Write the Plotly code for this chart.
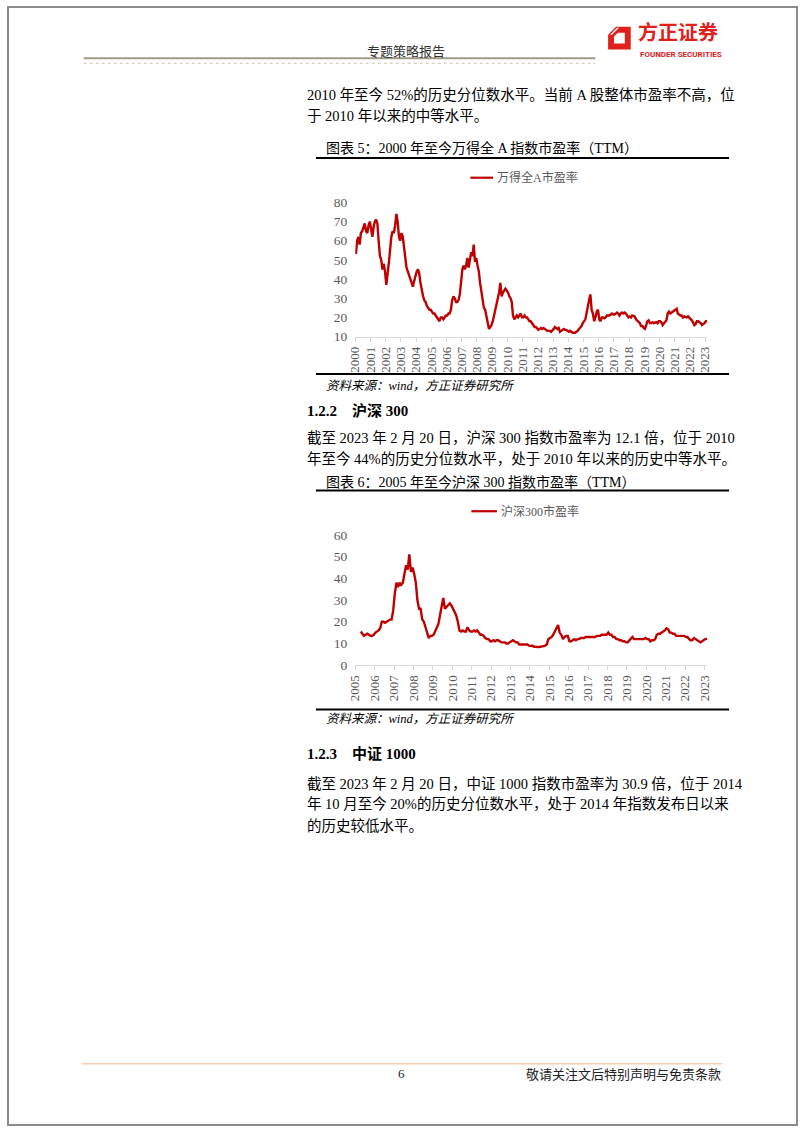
import plotly.graph_objects as go

W, H = 802, 1133

# ---------------- data ----------------
wind_a_months = [f"{y}-{m:02d}-15" for y in range(2000, 2023) for m in range(1, 13)] + ["2023-01-15", "2023-02-20"]
wind_a_pe = [
    53, 60, 62, 58, 64, 65, 67, 69, 65, 64, 68, 70,
    66, 62, 67, 70, 71, 69, 60, 52, 50, 45, 48, 44,
    37, 42, 48, 55, 62, 65, 64, 68, 74, 70, 62, 60,
    64, 62, 56, 50, 46, 44, 42, 40, 38, 36, 39, 42,
    44, 45, 43, 38, 34, 31, 29, 28, 26, 25, 24, 24,
    23, 22, 22, 21, 20, 19, 18, 20, 20, 19, 20, 21,
    21, 22, 22, 24, 29, 31, 30, 28, 28, 29, 32, 38,
    45, 47, 45, 47, 51, 46, 50, 54, 52, 58, 49, 51,
    47, 44, 38, 34, 30, 25, 24, 20, 17, 14, 15, 16,
    18, 21, 25, 28, 31, 33, 38, 31, 33, 34, 35, 34,
    33, 31, 30, 28, 21, 19, 20, 21, 20, 21, 22, 20,
    20, 21, 20, 20, 19, 18, 18, 17, 16, 15, 15, 14,
    13.5, 14, 14.5, 14, 14.5, 14, 13.5, 13, 13, 13, 12.5, 13,
    14, 15, 14.5, 14, 14.5, 12.5, 13, 13.5, 14, 13.5, 13.5, 13,
    12.5, 13, 12.5, 12, 12, 12, 12.5, 13, 14, 14.5, 15.5, 17,
    18, 19, 22, 27, 29, 32, 24, 22, 18, 20, 23, 24,
    19, 18, 20, 20, 19.5, 20, 21, 21, 21, 21.5, 22, 21.5,
    21.5, 22, 22.5, 22, 21, 22, 22.5, 22, 22.5, 22, 21, 20,
    20.5, 20, 21, 20.5, 20.5, 19, 18.5, 17.5, 17, 15.5, 15.5, 14.5,
    14, 16, 18, 18.5, 17, 17, 17.5, 17, 17.5, 17.5, 17, 18,
    18, 17.5, 16, 17, 17.5, 18.5, 22, 23, 22, 22.5, 23, 23.5,
    24, 24.5, 22, 21.5, 21, 21, 20, 20.5, 20, 20, 20.5, 20,
    19, 18.5, 17.5, 16, 16.5, 18, 18, 17.5, 17, 16, 16.5, 17,
    18, 18.2,
]

hs300_months = [f"2005-{m:02d}-15" for m in range(4, 13)] + \
    [f"{y}-{m:02d}-15" for y in range(2006, 2023) for m in range(1, 13)] + ["2023-01-15", "2023-02-20"]
hs300_pe = [
    15.5, 14.5, 13.5, 14, 14.5, 14, 13.5, 13.5, 14,
    15, 15.5, 16, 17, 20, 20, 19.5, 20, 20.5, 21, 21, 25,
    33, 38, 36, 38, 37, 38, 42, 46, 44, 51, 43, 45,
    42, 38, 30, 26, 26, 21, 20, 17, 14.5, 12.5, 13.5, 13.5,
    14, 15.5, 17, 19, 23, 27, 31, 26, 27, 28, 28.5, 27.5,
    26, 25, 23, 20, 16, 15.5, 16, 15.5, 15.5, 17.5, 16, 15.5,
    15.5, 16, 15.5, 16, 15, 14, 14, 13.5, 12.5, 12, 12, 11,
    11, 11.5, 11, 11.5, 11.5, 11, 10.5, 10.5, 10.5, 10, 10, 10.5,
    11, 11.5, 11, 10.5, 10.5, 9.5, 9.5, 9.5, 9.5, 9.5, 9.5, 9,
    8.8, 9, 8.5, 8.5, 8.3, 8.3, 8.5, 8.8, 8.8, 9, 9.5, 12,
    12.5, 13, 14, 16, 17, 18.5, 15, 14, 12, 13, 13.5, 13.5,
    11, 11, 11.5, 12, 11.5, 12, 12, 12.5, 12.5, 12.5, 13, 13,
    13, 13, 13, 13, 13, 13.5, 13.5, 13.5, 14, 14, 14, 14,
    15, 14, 14, 13, 13, 12, 12, 11.5, 11.5, 11, 11, 10.5,
    10.5, 11.5, 12.5, 13, 12, 12, 12, 12, 12, 12, 12, 12.5,
    12, 12, 11, 11.5, 11.5, 12, 14, 14.5, 14.5, 15, 15.5, 16,
    17, 16.5, 15, 15, 14.5, 14.5, 13.5, 13.5, 13.5, 13.5, 13.5, 13.5,
    13, 13, 12, 11.5, 11.5, 12.5, 12, 11.5, 11, 10.5, 11, 11.5,
    12, 12.1,
]

year_ticks_1 = [f"{y}-01-01" for y in range(2000, 2024)]
year_labels_1 = [str(y) for y in range(2000, 2024)]
year_ticks_2 = [f"{y}-01-01" for y in range(2005, 2024)]
year_labels_2 = [str(y) for y in range(2005, 2024)]

series1_name = "万得全A市盈率"
series2_name = "沪深300市盈率"

# ---------------- helpers ----------------
def px(x):
    return x / W

def py(y):
    return 1 - y / H

RED = "#C00000"
LOGO_RED = "#E0201B"
SERIF = "Liberation Serif, Noto Sans CJK SC, serif"
CJK = "Noto Sans CJK SC, sans-serif"

fig = go.Figure()

fig.add_trace(go.Scatter(x=wind_a_months, y=wind_a_pe, mode="lines", name=series1_name,
                         line=dict(color=RED, width=2.4), xaxis="x", yaxis="y", showlegend=False))
fig.add_trace(go.Scatter(x=hs300_months, y=hs300_pe, mode="lines", name=series2_name,
                         line=dict(color=RED, width=2.4), xaxis="x2", yaxis="y2", showlegend=False))

axis_common = dict(
    type="date", showgrid=False, zeroline=False, showline=True, linecolor="#D9D9D9", linewidth=1,
    ticks="outside", ticklen=4, tickcolor="#D9D9D9", tickangle=-90,
    tickfont=dict(family=SERIF, size=13, color="#595959"), tickmode="array",
)
yaxis_common = dict(
    showgrid=False, zeroline=False, showline=False, ticks="",
    tickfont=dict(family=SERIF, size=13.5, color="#595959"), tickmode="linear", dtick=10,
    ticklabelstandoff=7,
)

fig.update_layout(
    width=W, height=H, margin=dict(l=0, r=0, t=0, b=0),
    paper_bgcolor="white", plot_bgcolor="white", showlegend=False, hovermode=False,
    xaxis=dict(axis_common, domain=[px(353), px(711)], range=["2000-01-01", "2023-02-25"],
               tickvals=year_ticks_1, ticktext=year_labels_1, anchor="y"),
    yaxis=dict(yaxis_common, domain=[py(334), py(198)], range=[10, 80], anchor="x"),
    xaxis2=dict(axis_common, domain=[px(353), px(711)], range=["2005-01-01", "2023-02-25"],
                tickvals=year_ticks_2, ticktext=year_labels_2, anchor="y2"),
    yaxis2=dict(yaxis_common, domain=[py(667), py(535)], range=[0, 60], anchor="x2"),
)

shapes = []
annotations = []

def hline(x0, x1, y, color="black", width=2, dash=None):
    ln = dict(color=color, width=width)
    if dash:
        ln["dash"] = dash
    shapes.append(dict(type="line", xref="paper", yref="paper", x0=px(x0), x1=px(x1), y0=py(y), y1=py(y), line=ln))

def poly(points, color):
    d = "M " + " L ".join(f"{px(a)},{py(b)}" for a, b in points) + " Z"
    shapes.append(dict(type="path", xref="paper", yref="paper", path=d, line=dict(width=0), fillcolor=color))

def text(x, y, s, size=14.5, family=SERIF, color="black", anchor="left", bold=False, italic=False, yanchor="middle"):
    if bold:
        s = f"<b>{s}</b>"
    if italic:
        s = f"<i>{s}</i>"
    annotations.append(dict(x=px(x), y=py(y), xref="paper", yref="paper", text=s, showarrow=False,
                            xanchor=anchor, yanchor=yanchor, borderpad=0,
                            font=dict(size=size, family=family, color=color)))

# page border
shapes.append(dict(type="rect", xref="paper", yref="paper", x0=0, y0=0, x1=1, y1=1,
                   line=dict(color="#8C8C8C", width=2), fillcolor="rgba(0,0,0,0)"))

# header
text(405, 44, "专题策略报告", size=13, family=CJK, color="#333333", anchor="center")
hline(77, 597, 52, color="#A09A8A", width=2)
hline(77, 597, 57, color="#C8C2B0", width=1, dash="dot")

# logo
poly([(610, 28), (618, 20), (633, 20), (633, 43), (610, 43)], LOGO_RED)
poly([(616, 30), (620, 26), (627, 26), (627, 37), (616, 37)], "white")
poly([(612, 28), (619, 21), (621, 21), (614, 28)], "white")
text(681, 41, "方正证券", size=20, family=CJK, color=LOGO_RED, anchor="center", bold=True, yanchor="bottom")
text(684, 43, "FOUNDER SECURITIES", size=8, family="Roboto, sans-serif", color=LOGO_RED, anchor="center",
     bold=True, yanchor="top")

# body text block 1
text(303, 89, "2010 年至今 52%的历史分位数水平。当前 A 股整体市盈率不高，位")
text(303, 110, "于 2010 年以来的中等水平。")

# chart 1 frame
text(322, 143, "图表 5：2000 年至今万得全 A 指数市盈率（TTM）", size=14)
hline(313, 733, 153)
shapes.append(dict(type="line", xref="paper", yref="paper", x0=px(470), x1=px(493), y0=py(173), y1=py(173),
                   line=dict(color=RED, width=2.2)))
text(496, 173, series1_name, size=12, family=SERIF, color="#595959")
hline(313, 733, 372)
text(322, 384, "资料来源：wind，方正证券研究所", size=12.5, italic=True)

# section 1.2.2
text(303, 409, "1.2.2&nbsp;&nbsp;&nbsp;&nbsp;沪深 300", size=15, bold=True)
text(303, 437, "截至 2023 年 2 月 20 日，沪深 300 指数市盈率为 12.1 倍，位于 2010")
text(303, 458, "年至今 44%的历史分位数水平，处于 2010 年以来的历史中等水平。")

# chart 2 frame
text(322, 481, "图表 6：2005 年至今沪深 300 指数市盈率（TTM）", size=14)
hline(313, 733, 490)
shapes.append(dict(type="line", xref="paper", yref="paper", x0=px(471), x1=px(497), y0=py(511), y1=py(511),
                   line=dict(color=RED, width=2.2)))
text(500, 511, series2_name, size=12, family=SERIF, color="#595959")
hline(313, 733, 712)
text(322, 722, "资料来源：wind，方正证券研究所", size=12.5, italic=True)

# section 1.2.3
text(303, 757, "1.2.3&nbsp;&nbsp;&nbsp;&nbsp;中证 1000", size=15, bold=True)
text(303, 787, "截至 2023 年 2 月 20 日，中证 1000 指数市盈率为 30.9 倍，位于 2014")
text(303, 808, "年 10 月至今 20%的历史分位数水平，处于 2014 年指数发布日以来")
text(303, 829, "的历史较低水平。")

# footer
hline(75, 726, 1071, color="#F6CDB0", width=1.5)
text(400, 1081, "6", size=13, color="#222222", anchor="center")
text(726, 1081, "敬请关注文后特别声明与免责条款", size=13, family=CJK, color="#222222", anchor="right")

fig.update_layout(shapes=shapes, annotations=annotations)
fig.write_html(
    "out.html",
    config={"displayModeBar": False, "staticPlot": True},
    post_script="document.body.style.margin='0';document.body.style.overflow='hidden';"
                "document.documentElement.style.overflow='hidden';",
)
